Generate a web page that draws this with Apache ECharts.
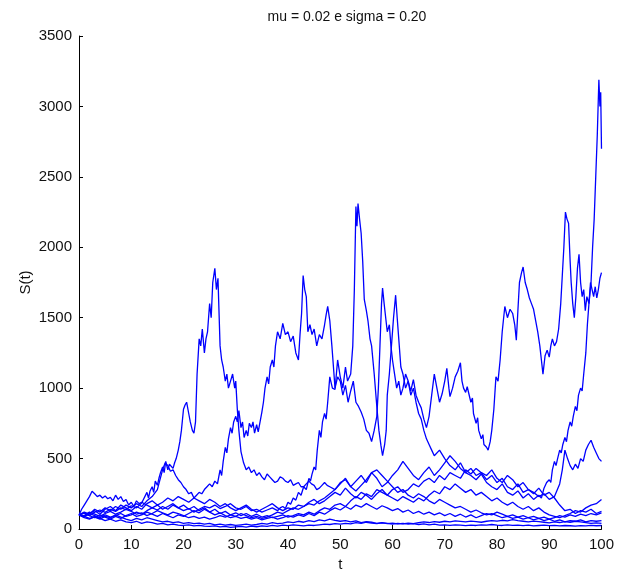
<!DOCTYPE html>
<html>
<head>
<meta charset="utf-8">
<script src="https://cdn.jsdelivr.net/npm/echarts@6/dist/echarts.min.js"></script>
<style>
  html, body { margin: 0; padding: 0; background: #ffffff; }
  #chart { width: 617px; height: 579px; }
</style>
</head>
<body>
<div id="chart"></div>
<script>
// Simulated price paths S(t), geometric Brownian motion, mu = 0.02, sigma = 0.20
const titleText = 'mu = 0.02 e sigma = 0.20';
const xTicks = [0, 10, 20, 30, 40, 50, 60, 70, 80, 90, 100];
const yTicks = [0, 500, 1000, 1500, 2000, 2500, 3000, 3500];

// Paths with a sharp excursion: [t, S(t)] pairs
const pathEarlyPeak = [[0,100],[1,112],[2,95],[3,120],[4,135],[5,118],[6,140],[7,125],[8,150],[9,138],[10,165],[11,150],[12,185],[13,260],[13.3,220],[13.6,270],[14,300],[14.3,260],[14.6,340],[15,310],[15.3,360],[15.6,400],[16,440],[16.3,400],[16.6,480],[17,420],[17.3,460],[17.6,470],[18,430],[18.3,470],[18.6,500],[19,560],[19.3,620],[19.6,700],[20,850],[20.3,880],[20.6,900],[21,820],[21.3,760],[21.7,700],[22,680],[22.3,760],[22.6,1100],[23,1350],[23.3,1300],[23.6,1420],[24,1250],[24.3,1350],[24.6,1400],[25,1600],[25.3,1500],[25.6,1750],[26,1850],[26.3,1700],[26.6,1780],[27,1300],[27.3,1200],[27.6,1150],[28,1050],[28.3,1100],[28.6,1000],[29,1050],[29.4,1100],[29.8,1000],[30,1050],[30.3,850],[30.6,700],[31,550],[31.5,470],[32,420],[32.5,440],[33,400],[33.5,420],[34,380],[34.5,400],[35,370],[35.5,350],[36,390],[36.5,370],[37,350],[37.5,330],[38,340],[38.5,370],[39,360],[39.5,340],[40,330],[40.5,350],[41,310],[41.5,320],[42,330],[42.5,300],[43,300],[43.5,320],[44,340],[44.5,320],[45,310],[45.5,280],[46,290],[46.5,310],[47,330],[47.5,310],[48,300],[49,280],[50,320],[51,360],[52,300],[53,340],[54,380],[55,330],[56,400],[57,360],[58,300],[59,330],[60,380],[61,420],[62,480],[63,430],[64,380],[65,350],[66,400],[67,440],[68,380],[69,420],[70,470],[71,520],[72,480],[73,430],[74,400],[75,430],[76,380],[77,400],[78,350],[79,380],[80,330],[81,360],[82,300],[83,280],[84,320],[85,260],[86,280],[87,250],[88,290],[89,240],[90,260],[91,220],[92,170],[93,130],[94,140],[95,110],[96,130],[97,120],[98,140],[99,110],[100,125]];

const pathMidHump = [[0,100],[1,120],[2,105],[3,140],[4,120],[5,150],[6,130],[7,160],[8,140],[9,170],[10,150],[11,180],[12,160],[13,200],[14,230],[15,280],[15.5,350],[16,420],[16.5,470],[17,450],[17.5,410],[18,420],[18.5,380],[19,350],[19.5,330],[20,300],[20.5,280],[21,250],[21.5,260],[22,220],[22.5,240],[23,260],[23.5,250],[24,280],[24.5,300],[25,320],[25.5,300],[26,340],[26.5,320],[27,420],[27.3,380],[27.6,480],[28,580],[28.3,540],[28.6,640],[29,720],[29.3,680],[29.6,760],[30,800],[30.3,760],[30.6,840],[31,720],[31.3,760],[31.6,650],[32,700],[32.3,660],[32.6,750],[33,720],[33.3,760],[33.6,680],[34,740],[34.3,690],[34.6,700],[35,830],[35.3,900],[35.6,1000],[36,1080],[36.3,1030],[36.6,1150],[37,1200],[37.3,1150],[37.6,1300],[38,1400],[38.5,1350],[39,1460],[39.5,1380],[40,1400],[40.5,1330],[41,1370],[41.5,1250],[42,1200],[42.3,1380],[42.6,1530],[42.9,1800],[43.2,1700],[43.5,1650],[43.8,1400],[44.2,1450],[44.6,1380],[45,1420],[45.5,1300],[46,1380],[46.5,1350],[47,1450],[47.3,1520],[47.6,1580],[48,1480],[48.4,1300],[48.7,1150],[49,1000],[49.5,1080],[50,1050],[50.5,950],[51,1020],[51.5,900],[52,980],[52.5,1050],[53,900],[53.5,870],[54,830],[54.5,780],[55,700],[55.5,680],[56,620],[56.5,700],[57,800],[57.3,1000],[57.6,1300],[57.9,1600],[58.1,1710],[58.4,1600],[58.7,1500],[59,1400],[59.4,1450],[59.7,1300],[60,1200],[60.4,1100],[60.8,1000],[61.2,1050],[61.6,950],[62,1000],[62.5,1100],[63,1050],[63.5,980],[64,1060],[64.5,950],[65,900],[65.5,860],[66,780],[66.5,720],[67,800],[67.5,950],[68,1100],[68.5,1000],[69,900],[69.5,960],[70,1050],[70.4,1140],[70.8,1000],[71,940],[71.5,1000],[72,1080],[72.5,1120],[73,1180],[73.3,1050],[73.6,1000],[74,970],[74.3,1010],[74.5,1000],[75,900],[75.3,930],[75.5,820],[76,750],[76.3,790],[76.5,700],[77,640],[77.3,670],[77.5,600],[78,580],[78.3,560],[78.7,620],[79,700],[79.4,850],[79.8,1080],[80.2,1050],[80.6,1200],[81,1400],[81.5,1580],[82,1500],[82.5,1560],[83,1530],[83.4,1450],[83.7,1340],[84,1550],[84.3,1750],[84.7,1820],[85,1860],[85.4,1750],[85.8,1700],[86.2,1640],[86.6,1600],[87,1560],[87.4,1480],[87.8,1400],[88.2,1300],[88.5,1200],[88.8,1100],[89.2,1230],[89.6,1270],[90,1220],[90.3,1300],[90.6,1350],[91,1300],[91.4,1330],[91.8,1420],[92.2,1600],[92.5,1800],[92.8,2000],[93.1,2250],[93.4,2200],[93.7,2170],[94,1900],[94.2,1750],[94.5,1600],[94.8,1500],[95.1,1650],[95.4,1850],[95.7,1950],[96,1750],[96.3,1650],[96.6,1700],[96.9,1550],[97.2,1650],[97.6,1600],[97.9,1750],[98.2,1700],[98.5,1650],[98.8,1720],[99.1,1640],[99.4,1700],[99.7,1780],[100,1820]];

const pathSpike = [[0,100],[1,90],[2,110],[3,95],[4,80],[5,100],[6,85],[7,95],[8,110],[9,90],[10,100],[11,120],[12,105],[13,130],[14,150],[15,135],[16,160],[17,140],[18,170],[19,150],[20,130],[21,145],[22,120],[23,140],[24,160],[25,150],[26,170],[27,145],[28,160],[29,180],[30,150],[31,140],[32,160],[33,130],[34,140],[35,120],[36,135],[37,150],[38,130],[38.5,150],[39,160],[39.5,145],[40,190],[40.5,175],[41,220],[41.5,205],[42,260],[42.5,240],[43,300],[43.5,280],[44,360],[44.3,340],[44.6,390],[45,440],[45.3,420],[45.6,560],[46,700],[46.3,650],[46.6,760],[47,820],[47.3,780],[47.6,900],[48,1080],[48.5,1000],[49,990],[49.5,1200],[50,1080],[50.5,1000],[51,1150],[51.4,1050],[52,1100],[52.4,1300],[52.7,1700],[53,2290],[53.2,2150],[53.4,2310],[53.7,2200],[54,2100],[54.3,1900],[54.6,1630],[55,1550],[55.3,1480],[55.7,1350],[56,1300],[56.5,1100],[57,870],[57.4,700],[57.8,590],[58.1,520],[58.5,600],[58.8,700],[59,950],[59.4,1100],[59.8,1300],[60.2,1500],[60.6,1660],[60.9,1500],[61.2,1350],[61.6,1150],[62,1100],[62.5,1000],[63,1050],[63.5,950],[64,1000],[64.5,900],[65,820],[65.5,780],[66,700],[66.5,640],[67,600],[67.5,560],[68,520],[69,560],[70,500],[71,450],[72,420],[73,470],[74,400],[75,380],[76,350],[77,390],[78,330],[79,300],[80,280],[81,320],[82,260],[83,240],[84,270],[85,220],[86,250],[87,210],[88,240],[88.5,220],[89,290],[89.5,330],[90,350],[90.3,330],[90.6,420],[91,480],[91.3,450],[91.6,500],[92,560],[92.3,540],[92.6,600],[93,650],[93.3,620],[93.6,700],[94,760],[94.3,730],[94.6,800],[95,870],[95.3,840],[95.6,950],[96,1000],[96.3,980],[96.6,1100],[97,1250],[97.3,1450],[97.6,1600],[98,1750],[98.3,2000],[98.6,2200],[98.9,2500],[99.2,2800],[99.5,3190],[99.7,3000],[99.85,3100],[100,2700]];

const pathLateRise = [[0,100],[0.5,140],[1,170],[1.5,200],[2,230],[2.5,268],[3,250],[3.5,230],[4,240],[4.5,220],[5,235],[5.5,215],[6,225],[6.5,200],[7,240],[7.5,210],[8,230],[8.5,195],[9,210],[9.5,170],[10,190],[10.5,160],[11,200],[11.5,180],[12,190],[13,170],[14,150],[15,170],[16,140],[17,160],[18,180],[19,150],[20,170],[21,140],[22,160],[23,130],[24,150],[25,120],[26,140],[27,110],[28,125],[29,100],[30,115],[31,95],[32,110],[33,90],[34,105],[35,85],[36,95],[37,80],[38,90],[39,100],[40,85],[41,95],[42,110],[43,100],[44,120],[45,105],[46,130],[47,150],[48,140],[49,170],[50,180],[51,160],[52,200],[53,230],[54,210],[55,250],[56,230],[57,280],[58,260],[59,240],[60,280],[61,300],[62,260],[63,280],[64,320],[65,300],[66,340],[67,360],[68,330],[69,380],[70,350],[71,400],[72,380],[73,360],[74,420],[75,390],[76,430],[77,400],[78,380],[79,420],[80,360],[81,330],[82,380],[83,350],[84,300],[85,330],[86,280],[87,260],[88,230],[89,250],[90,210],[91,230],[92,320],[92.5,420],[93,560],[93.5,500],[94,450],[94.5,420],[95,460],[95.5,430],[96,500],[96.5,480],[97,560],[97.5,600],[98,630],[98.5,580],[99,540],[99.5,500],[100,480]];

// Low-lying paths, one value per unit of t (t = 0 .. 100)
const lowPathA = [100,85,110,130,105,140,160,130,170,150,130,160,140,180,200,170,190,220,200,230,210,190,220,200,180,210,190,160,180,150,130,150,170,140,120,140,160,180,150,130,150,140,170,160,190,210,180,200,230,260,240,290,250,220,260,240,210,250,280,240,220,200,230,210,190,220,200,240,270,250,300,280,320,290,260,280,240,260,230,200,220,190,170,190,160,140,160,130,150,120,100,90,80,95,110,130,120,150,170,180,210];
const lowPathB = [100,90,75,85,70,90,80,100,85,70,60,75,65,80,70,60,50,55,45,50,40,45,38,42,35,40,30,35,28,32,25,30,35,28,32,40,35,45,38,42,50,45,55,48,60,52,65,58,70,62,55,60,50,58,45,52,48,40,45,38,42,36,40,34,38,32,36,30,34,28,30,26,30,27,24,28,25,30,27,32,28,25,30,26,28,24,27,22,25,28,24,26,22,25,23,20,24,22,26,23,25];
const lowPathC = [100,115,95,80,100,85,70,90,75,95,110,90,100,120,105,90,110,95,80,100,90,110,130,115,140,120,100,115,95,80,90,75,85,70,80,65,75,85,70,80,95,85,100,90,110,95,120,105,130,150,135,160,140,170,155,180,160,140,165,150,130,145,120,135,110,125,105,120,100,115,95,110,90,105,85,100,80,95,110,100,120,105,90,100,85,95,80,90,75,85,70,80,95,85,100,90,105,95,110,100,115];
const lowPathD = [100,95,120,105,90,110,125,105,120,140,125,105,115,95,110,130,115,100,120,110,95,80,90,75,85,70,80,95,85,100,90,110,95,80,90,75,85,100,120,110,130,150,140,160,180,170,200,220,250,280,330,350,300,270,310,350,400,420,380,340,300,260,280,240,220,250,230,200,180,210,190,170,150,160,140,120,135,115,100,110,95,80,90,75,85,70,80,65,75,60,70,55,65,50,60,55,65,50,60,55,60];
const lowPathE = [100,80,70,90,75,60,70,55,65,50,45,55,40,50,45,35,40,30,35,28,25,30,22,26,20,18,22,15,18,12,15,18,14,20,16,22,18,25,20,28,24,30,26,22,28,25,30,35,32,38,34,40,36,45,40,48,42,38,44,40,35,40,36,42,38,45,50,46,52,48,55,50,58,54,50,56,52,48,55,60,56,62,58,66,60,55,50,56,52,48,44,50,46,52,48,55,50,45,40,44,40];

const unitSeries = [lowPathA, lowPathB, lowPathC, lowPathD, lowPathE];
const pairSeries = [pathLateRise, pathEarlyPeak, pathSpike, pathMidHump];

const lineBlue = '#0000ff';
const fontFamily = '"Liberation Sans", Arial, sans-serif';

const series = [];
unitSeries.forEach(vals => {
  series.push({ data: vals.map((v, i) => [i, v]) });
});
pairSeries.forEach(p => series.push({ data: p }));
series.forEach(s => {
  s.type = 'line';
  s.showSymbol = false;
  s.symbol = 'none';
  s.silent = true;
  s.lineStyle = { color: lineBlue, width: 1.3 };
});

const chart = echarts.init(document.getElementById('chart'), null, { renderer: 'canvas' });
chart.setOption({
  animation: false,
  backgroundColor: '#ffffff',
  title: {
    text: titleText,
    left: 342, top: 5, textAlign: 'center',
    textStyle: { fontFamily, fontSize: 14, fontWeight: 'normal', color: '#111' }
  },
  grid: { left: 79, top: 36, right: 11, bottom: 50, containLabel: false },
  xAxis: {
    type: 'value', min: 0, max: 100, interval: 10,
    name: 't', nameLocation: 'middle', nameGap: 27,
    nameTextStyle: { fontFamily, fontSize: 15, color: '#111' },
    axisLine: { onZero: false, lineStyle: { color: '#000', width: 1 } },
    axisTick: { inside: true, length: 4, lineStyle: { color: '#000' } },
    axisLabel: { fontFamily, fontSize: 15, color: '#111', margin: 8,
      formatter: v => xTicks.includes(v) ? String(v) : '' },
    splitLine: { show: false }
  },
  yAxis: {
    type: 'value', min: 0, max: 3500, interval: 500,
    name: 'S(t)', nameLocation: 'middle', nameGap: 46, nameRotate: 90,
    nameMoveOverlap: false,
    nameTextStyle: { fontFamily, fontSize: 15, color: '#111' },
    axisLine: { onZero: false, lineStyle: { color: '#000', width: 1 } },
    axisTick: { inside: true, length: 4, lineStyle: { color: '#000' } },
    axisLabel: { fontFamily, fontSize: 15, color: '#111', margin: 7,
      formatter: v => yTicks.includes(v) ? String(v) : '' },
    splitLine: { show: false }
  },
  series
});
</script>
</body>
</html>
